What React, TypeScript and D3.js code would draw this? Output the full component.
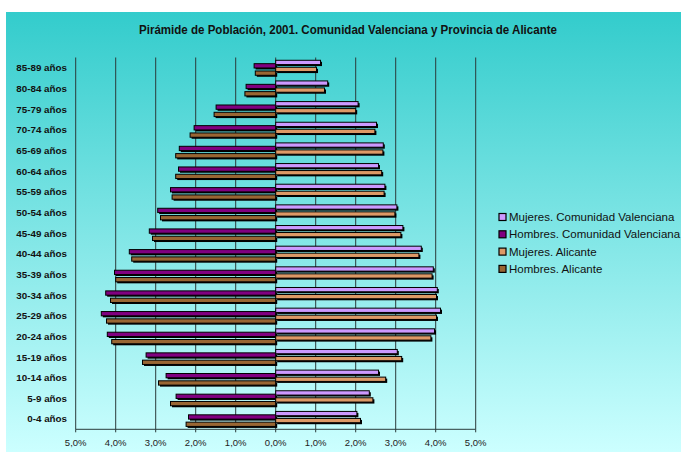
import React from "react";
import * as d3 from "d3";

const ageGroups = [
  "0-4 años", "5-9 años", "10-14 años", "15-19 años", "20-24 años", "25-29 años",
  "30-34 años", "35-39 años", "40-44 años", "45-49 años", "50-54 años", "55-59 años",
  "60-64 años", "65-69 años", "70-74 años", "75-79 años", "80-84 años", "85-89 años",
];
const mujeresCV = [2.03, 2.34, 2.57, 3.04, 3.97, 4.12, 4.04, 3.94, 3.64, 3.18, 3.03, 2.73, 2.57, 2.69, 2.52, 2.06, 1.30, 1.12];
const hombresCV = [2.18, 2.49, 2.74, 3.24, 4.21, 4.36, 4.25, 4.03, 3.66, 3.16, 2.95, 2.63, 2.43, 2.41, 2.04, 1.49, 0.74, 0.54];
const mujeresA = [2.12, 2.43, 2.75, 3.15, 3.88, 4.02, 4.02, 3.91, 3.58, 3.13, 2.98, 2.71, 2.65, 2.68, 2.48, 2.00, 1.22, 1.02];
const hombresA = [2.24, 2.63, 2.93, 3.33, 4.10, 4.23, 4.13, 4.00, 3.60, 3.08, 2.88, 2.59, 2.50, 2.50, 2.14, 1.54, 0.77, 0.51];
const xTicks = [-5, -4, -3, -2, -1, 0, 1, 2, 3, 4, 5];
const title = "Pirámide de Población, 2001. Comunidad Valenciana y Provincia de Alicante";

const series = [
  { name: "Mujeres. Comunidad Valenciana", values: mujeresCV, sign: 1, color: "#CC99FF", offset: -5.4 },
  { name: "Hombres. Comunidad Valenciana", values: hombresCV, sign: -1, color: "#800080", offset: -2.0 },
  { name: "Mujeres. Alicante", values: mujeresA, sign: 1, color: "#DD9966", offset: 1.6 },
  { name: "Hombres. Alicante", values: hombresA, sign: -1, color: "#996633", offset: 5.3 },
];

export default function App() {
  const W = 681, H = 452;
  const left = 75.7, right = 475.7, top = 57.5, bottom = 429.3;
  const x = d3.scaleLinear().domain([-5, 5]).range([left, right]);
  const y = d3.scaleBand().domain([...ageGroups].reverse()).range([top, bottom]);
  const fmt = (v: number) => Math.abs(v).toFixed(1).replace(".", ",") + "%";
  const barH = 4.3;
  const font = "'Liberation Sans', Arial, sans-serif";

  const drawOrder = [1, 3, 0, 2];

  return (
    <svg width={W} height={H} style={{ position: "absolute", left: 0, top: 0 }} fontFamily={font}>
      <defs>
        <linearGradient id="bg" x1="0" y1="0" x2="0" y2="1">
          <stop offset="0" stopColor="#33CCCC" />
          <stop offset="1" stopColor="#CCFFFF" />
        </linearGradient>
      </defs>
      <rect x={0} y={0} width={W} height={H} fill="#fff" />
      <rect x={6} y={12} width={W - 6} height={H - 12} fill="url(#bg)" />
      <text x={348} y={34} textAnchor="middle" fontSize={13} fontWeight="bold" fill="#111"
        textLength={418} lengthAdjust="spacingAndGlyphs">{title}</text>

      {xTicks.map((t) => (
        <line key={"g" + t} x1={x(t)} x2={x(t)} y1={top} y2={bottom} stroke="#2b3b3b" strokeWidth={1} />
      ))}

      {drawOrder.map((si) => {
        const s = series[si];
        return (
          <g key={s.name}>
            {s.values.map((v, i) => {
              const c = (y(ageGroups[i]) as number) + y.bandwidth() / 2 + s.offset;
              const x0 = x(0), x1 = x(s.sign * v);
              const bx = Math.min(x0, x1), bw = Math.abs(x1 - x0);
              return (
                <g key={i}>
                  <rect x={bx + 1.5} y={c - barH / 2 + 1.5} width={bw} height={barH} fill="#000" />
                  <rect x={bx} y={c - barH / 2} width={bw} height={barH} fill={s.color} stroke="#000" strokeWidth={1} />
                </g>
              );
            })}
          </g>
        );
      })}

      <line x1={left} x2={right} y1={bottom} y2={bottom} stroke="#2b3b3b" strokeWidth={1} />
      {xTicks.map((t) => (
        <g key={"t" + t}>
          <line x1={x(t)} x2={x(t)} y1={bottom} y2={bottom + 3} stroke="#2b3b3b" />
          <text x={x(t)} y={446} textAnchor="middle" fontSize={9.5} fill="#222">{fmt(t)}</text>
        </g>
      ))}

      {ageGroups.map((a) => (
        <text key={a} x={67} y={(y(a) as number) + y.bandwidth() / 2 + 3.5} textAnchor="end"
          fontSize={9.8} fontWeight="bold" fill="#111">{a}</text>
      ))}

      {series.map((s, i) => (
        <g key={"l" + i} transform={`translate(499, ${217 + i * 17.3})`}>
          <rect x={0} y={-3.5} width={7} height={7} fill={s.color} stroke="#000" strokeWidth={1.2} />
          <text x={10} y={4} fontSize={11.5} fill="#111">{s.name}</text>
        </g>
      ))}
    </svg>
  );
}
